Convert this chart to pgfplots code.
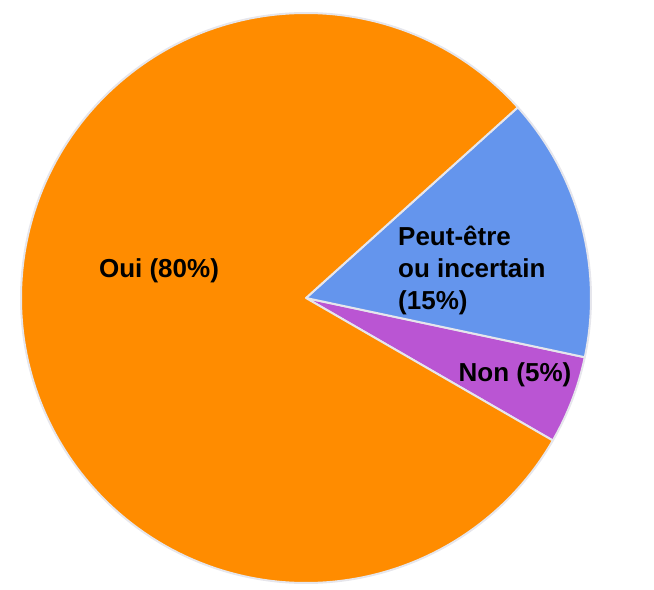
\documentclass[border=0pt]{standalone}
\usepackage{pgfplots}
\pgfplotsset{compat=1.18}
\usepackage{pgfplotstable}
\usepackage{fontspec}
\setmainfont{Liberation Sans}
\definecolor{oui}{HTML}{FF8C00}
\definecolor{peut}{HTML}{6495ED}
\definecolor{non}{HTML}{BA55D3}
\definecolor{edge}{HTML}{E6E6EC}

% share of each answer, in percent, drawn counter-clockwise from -30 degrees
\pgfplotstableread{
pct color
5 non
15 peut
80 oui
}\piedata

\begin{document}
\begin{tikzpicture}
\useasboundingbox (0,0) rectangle (654bp,590bp);
\begin{axis}[at={(0,0)},anchor=south west,x=1bp,y=1bp,xmin=0,xmax=654,ymin=0,ymax=590,hide axis,clip=false]
\pgfplotsextra{
  \gdef\cur{-30}
  \pgfplotstablegetrowsof{\piedata}
  \pgfmathtruncatemacro\nrows{\pgfplotsretval-1}
  \foreach \i in {0,...,\nrows}{
    \pgfplotstablegetelem{\i}{pct}\of\piedata \let\p\pgfplotsretval
    \pgfplotstablegetelem{\i}{color}\of\piedata \let\c\pgfplotsretval
    \pgfmathsetmacro\endang{\cur+3.6*\p}
    \filldraw[fill=\c, draw=edge, line width=2bp, line join=round]
      (axis cs:306,292) -- ++(\cur:285bp) arc[start angle=\cur, end angle=\endang, radius=285bp] -- cycle;
    \xdef\cur{\endang}
  }
}
\node[anchor=base, font=\bfseries\fontsize{26bp}{32bp}\selectfont] at (axis cs:159,313) {Oui (80\%)};
\node[anchor=base west, inner sep=0pt, font=\bfseries\fontsize{26bp}{32bp}\selectfont] at (axis cs:398,345) {Peut-être};
\node[anchor=base west, inner sep=0pt, font=\bfseries\fontsize{26bp}{32bp}\selectfont] at (axis cs:398,313) {ou incertain};
\node[anchor=base west, inner sep=0pt, font=\bfseries\fontsize{26bp}{32bp}\selectfont] at (axis cs:398,281) {(15\%)};
\node[anchor=base, font=\bfseries\fontsize{26bp}{32bp}\selectfont] at (axis cs:515,209) {Non (5\%)};
\end{axis}
\end{tikzpicture}
\end{document}
